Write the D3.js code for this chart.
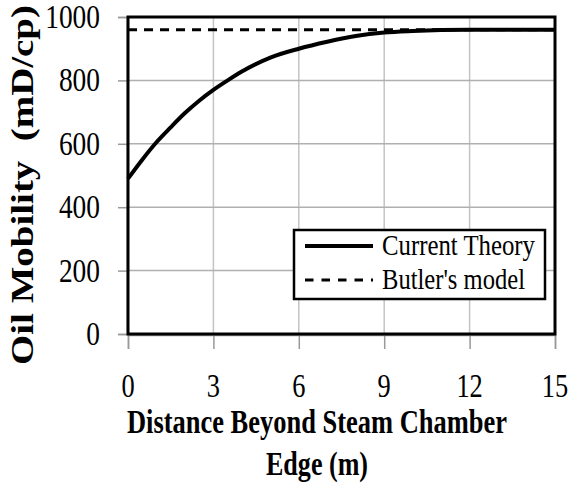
<!DOCTYPE html>
<html><head><meta charset="utf-8">
<script src="https://cdn.jsdelivr.net/npm/d3@7"></script>
<style>body{margin:0;background:#fff}svg{display:block}</style>
</head><body>
<script>
const distance = [0,0.5,1,1.5,2,2.5,3,3.5,4,5,6,7,8,9,10,11,12,13,14,15];
const currentTheory = [490,550,605,652,697,736,770,800,828,872,900,922,940,951,956,959,960,960,960,960];
const butlerModel = 960;
const xTicks = [0,3,6,9,12,15];
const yTicks = [0,200,400,600,800,1000];
const seriesNames = ["Current Theory","Butler's model"];

const W=573,H=488;
const svg=d3.select("body").append("svg").attr("width",W).attr("height",H);
const x=d3.scaleLinear().domain([0,15]).range([128,555]);
const y=d3.scaleLinear().domain([0,1000]).range([334,17]);
const serif="'Liberation Serif','Times New Roman',serif";

// grid
svg.append("g").selectAll("line").data(xTicks.slice(1,-1)).join("line")
  .attr("x1",d=>x(d)).attr("x2",d=>x(d)).attr("y1",y(1000)).attr("y2",y(0))
  .attr("stroke","#c4c4c4").attr("stroke-width",1.5);
svg.append("g").selectAll("line").data(yTicks.slice(1,-1)).join("line")
  .attr("x1",x(0)).attr("x2",x(15)).attr("y1",d=>y(d)).attr("y2",d=>y(d))
  .attr("stroke","#b0b0b0").attr("stroke-width",1.5);

// axes (grey lines + ticks)
const xa=svg.append("g").attr("transform",`translate(0,${y(0)+1})`)
  .call(d3.axisBottom(x).tickValues(xTicks).tickSize(14).tickFormat(""));
const ya=svg.append("g").attr("transform",`translate(${x(0)-1},0)`)
  .call(d3.axisLeft(y).tickValues(yTicks).tickSize(9).tickFormat(""));
[xa,ya].forEach(a=>{a.selectAll("path,line").attr("stroke","#999").attr("stroke-width",1.5);});

// frame
svg.append("rect").attr("x",x(0)).attr("y",y(1000)).attr("width",x(15)-x(0)).attr("height",y(0)-y(1000))
  .attr("fill","none").attr("stroke","#000").attr("stroke-width",3);

// series
svg.append("line").attr("x1",x(0)).attr("x2",x(15)).attr("y1",y(butlerModel)).attr("y2",y(butlerModel))
  .attr("stroke","#000").attr("stroke-width",3).attr("stroke-dasharray","9,7");
const line=d3.line().x((d,i)=>x(distance[i])).y(d=>y(d)).curve(d3.curveMonotoneX);
svg.append("path").attr("d",line(currentTheory)).attr("fill","none").attr("stroke","#000").attr("stroke-width",4);

// tick labels
svg.append("g").selectAll("text").data(yTicks).join("text")
  .attr("x",100).attr("y",d=>y(d)+11).attr("text-anchor","end")
  .attr("font-family",serif).attr("font-size",33)
  .attr("textLength",d=>String(d).length*13.7).attr("lengthAdjust","spacingAndGlyphs")
  .text(d=>d);
svg.append("g").selectAll("text").data(xTicks).join("text")
  .attr("x",d=>Math.min(x(d),557)).attr("y",397).attr("text-anchor","middle")
  .attr("font-family",serif).attr("font-size",33)
  .attr("textLength",d=>String(d).length*13.2).attr("lengthAdjust","spacingAndGlyphs")
  .text(d=>d);

// axis titles
svg.append("text").attr("x",317).attr("y",433).attr("text-anchor","middle")
  .attr("font-family",serif).attr("font-weight","bold").attr("font-size",33)
  .attr("textLength",380).attr("lengthAdjust","spacingAndGlyphs").text("Distance Beyond Steam Chamber");
svg.append("text").attr("x",317).attr("y",475).attr("text-anchor","middle")
  .attr("font-family",serif).attr("font-weight","bold").attr("font-size",33)
  .attr("textLength",102).attr("lengthAdjust","spacingAndGlyphs").text("Edge (m)");
svg.append("text").attr("transform","translate(33,185) rotate(-90)").attr("text-anchor","middle")
  .attr("font-family",serif).attr("font-weight","bold").attr("font-size",31)
  .attr("textLength",360).attr("lengthAdjust","spacingAndGlyphs").text("Oil Mobility\u00a0\u00a0(mD/cp)");

// legend
const lg=svg.append("g");
lg.append("rect").attr("x",294).attr("y",230).attr("width",251).attr("height",69)
  .attr("fill","#fff").attr("stroke","#000").attr("stroke-width",2.5);
lg.append("line").attr("x1",305).attr("x2",373).attr("y1",246).attr("y2",246).attr("stroke","#000").attr("stroke-width",4);
lg.append("line").attr("x1",305).attr("x2",373).attr("y1",280).attr("y2",280).attr("stroke","#000").attr("stroke-width",3).attr("stroke-dasharray","8.5,8");
lg.selectAll("text.l").data(seriesNames).join("text").attr("class","l")
  .attr("x",382).attr("y",(d,i)=>255+i*34)
  .attr("font-family",serif).attr("font-size",30)
  .attr("textLength",(d,i)=>i?143:153).attr("lengthAdjust","spacingAndGlyphs").text(d=>d);
</script>
</body></html>
